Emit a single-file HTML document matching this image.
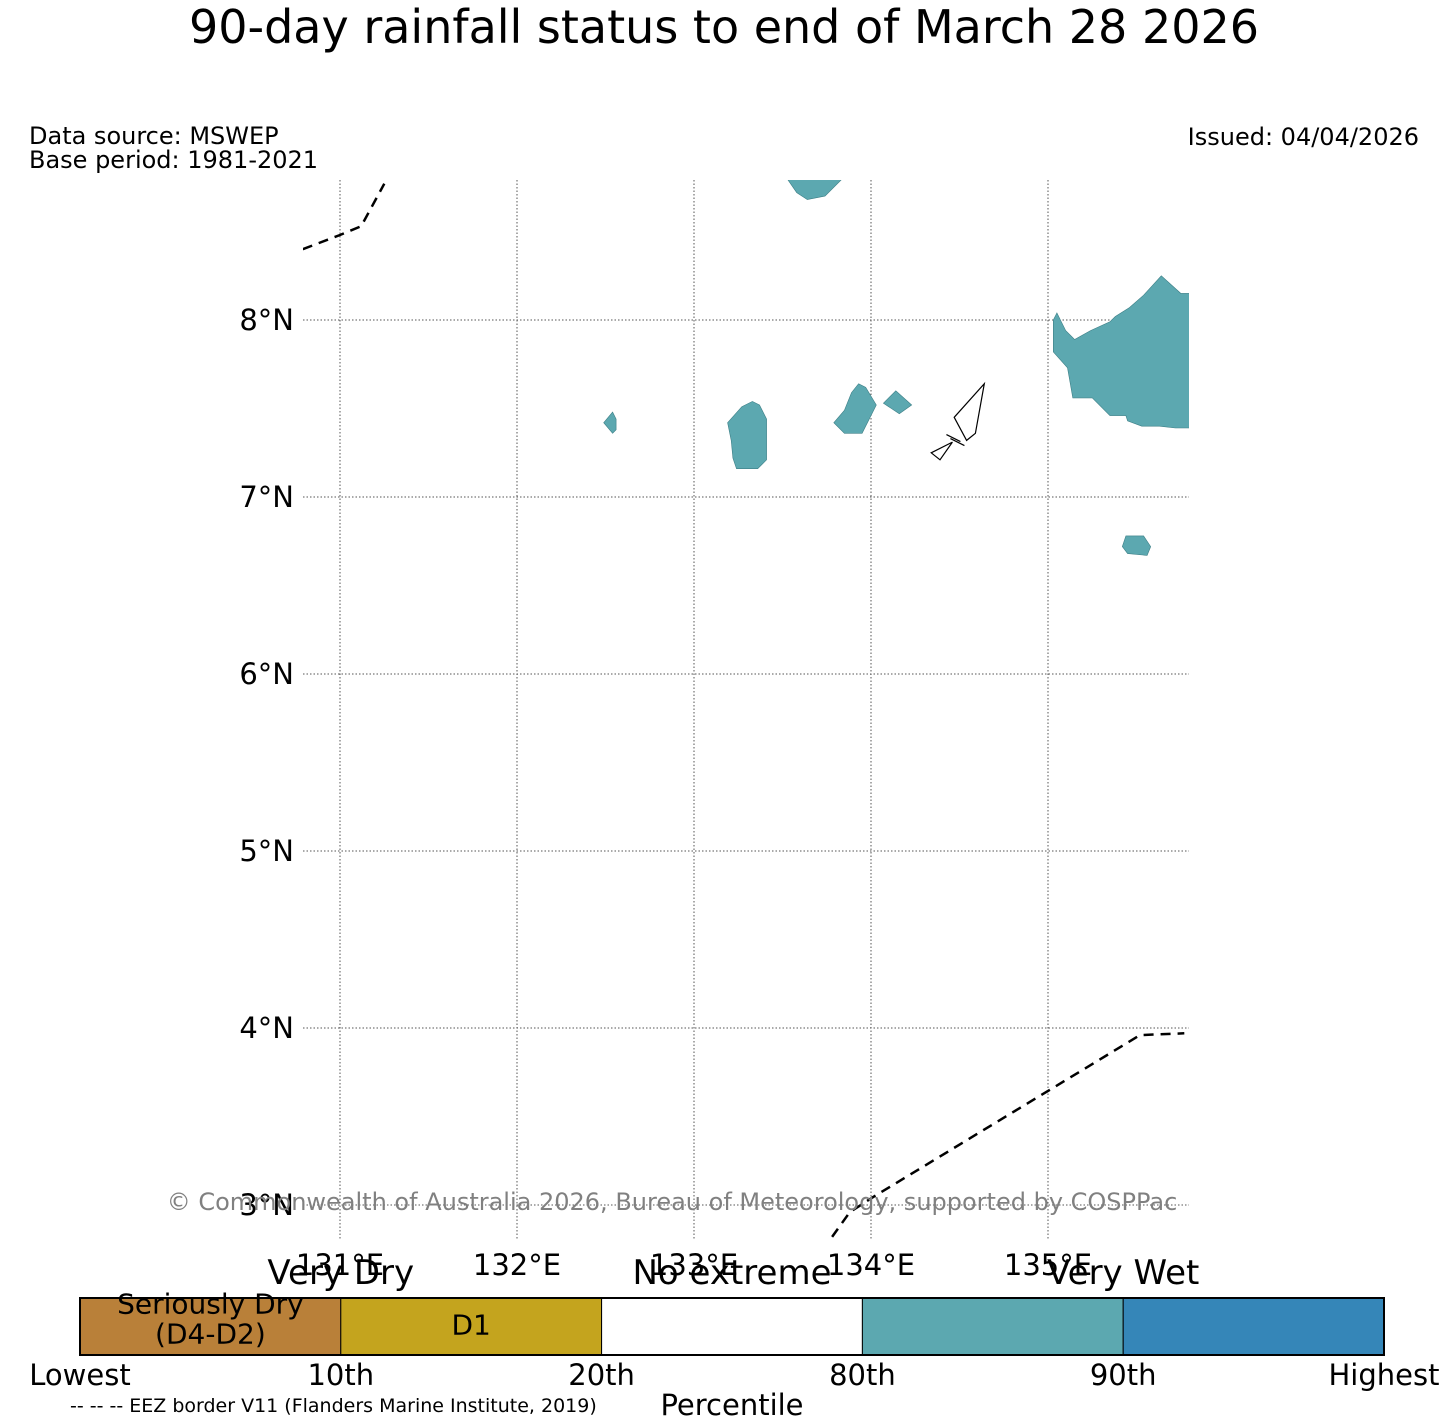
<!DOCTYPE html>
<html><head><meta charset="utf-8"><style>
body{margin:0;background:#fff;width:1449px;height:1426px;overflow:hidden;font-family:"DejaVu Sans","Liberation Sans",sans-serif}
svg{display:block}
</style></head><body>
<svg id="chart" width="1449" height="1426" font-family="DejaVu Sans, Liberation Sans, sans-serif">
<text x="724" y="43" font-size="46" text-anchor="middle">90-day rainfall status to end of March 28 2026</text>
<text x="29" y="144" font-size="24">Data source: MSWEP</text>
<text x="29" y="168" font-size="24">Base period: 1981-2021</text>
<text x="1419" y="145" font-size="24" text-anchor="end">Issued: 04/04/2026</text>
<defs><clipPath id="mapclip"><rect x="303" y="180" width="886" height="1060"/></clipPath></defs>
<g id="map" clip-path="url(#mapclip)"></g>
<g id="ticks"></g>
<text x="672" y="1210" font-size="24" fill="#808080" text-anchor="middle">© Commonwealth of Australia 2026, Bureau of Meteorology, supported by COSPPac</text>
<g id="cbar"></g>
<text x="70" y="1412" font-size="19">-- -- -- EEZ border V11 (Flanders Marine Institute, 2019)</text>
<text x="732" y="1415" font-size="29" text-anchor="middle">Percentile</text>
</svg>
<script>
const lonTicks=[131,132,133,134,135];
const latTicks=[8,7,6,5,4,3];
const wetPolys=[
 [[133.525,8.80],[133.58,8.72],[133.64,8.68],[133.74,8.70],[133.84,8.80]],
 [[135.03,8.00],[135.05,8.04],[135.10,7.94],[135.15,7.89],[135.24,7.94],[135.35,7.99],[135.38,8.02],[135.46,8.07],[135.54,8.14],[135.64,8.25],[135.75,8.15],[135.80,8.15],[135.80,7.39],[135.72,7.39],[135.63,7.40],[135.53,7.40],[135.45,7.43],[135.44,7.46],[135.35,7.46],[135.25,7.56],[135.14,7.56],[135.11,7.73],[135.03,7.82]],
 [[135.44,6.78],[135.54,6.78],[135.58,6.72],[135.56,6.67],[135.45,6.68],[135.42,6.72]],
 [[133.19,7.42],[133.27,7.51],[133.33,7.54],[133.37,7.52],[133.41,7.44],[133.41,7.21],[133.36,7.16],[133.24,7.16],[133.22,7.22],[133.21,7.32]],
 [[133.79,7.42],[133.85,7.49],[133.89,7.59],[133.93,7.64],[133.97,7.62],[134.03,7.52],[133.95,7.36],[133.85,7.36]],
 [[134.07,7.53],[134.14,7.60],[134.23,7.52],[134.16,7.47]],
 [[132.49,7.42],[132.54,7.48],[132.56,7.44],[132.56,7.38],[132.54,7.36]]
];
const islandPolys=[
 [[134.47,7.45],[134.64,7.64],[134.59,7.36],[134.54,7.32]],
 [[134.34,7.25],[134.46,7.31],[134.39,7.21]]
];
const eezLines=[
 [[130.79,8.40],[131.0,8.48],[131.12,8.53],[131.25,8.77]],
 [[133.78,2.82],[133.88,2.96],[134.02,3.05],[135.52,3.96],[135.77,3.97]]
];
const cbarColors=["#b98039","#c4a41e","#ffffff","#5ca8b0","#3586b8"];
const cbarTicks=["Lowest","10th","20th","80th","90th","Highest"];
const cbarInner=["Seriously Dry\n(D4-D2)","D1","","",""];
const cbarTop=[["Very Dry",1],["No extreme",2.5],["Very Wet",4]];

const NS="http://www.w3.org/2000/svg";
const xs=lon=>340+(lon-131)*177;
const ys=lat=>320-(lat-8)*177;
function mk(tag,attrs,parent){const e=document.createElementNS(NS,tag);for(const k in attrs)e.setAttribute(k,attrs[k]);parent.appendChild(e);return e;}
const map=document.getElementById('map'),ticks=document.getElementById('ticks'),cbar=document.getElementById('cbar');
const pts=p=>p.map(q=>xs(q[0]).toFixed(1)+','+ys(q[1]).toFixed(1)).join(' ');
lonTicks.forEach(l=>{const e=mk('line',{x1:xs(l),x2:xs(l),y1:180,y2:1240,stroke:'#555','stroke-width':1,'stroke-dasharray':'1.5,2'},map);

const t=mk('text',{x:xs(l),y:1275,'font-size':29,'text-anchor':'middle'},ticks);t.textContent=l+'°E';
});
latTicks.forEach(l=>{const e=mk('line',{x1:303,x2:1189,y1:ys(l),y2:ys(l),stroke:'#555','stroke-width':1,'stroke-dasharray':'1.5,2'},map);

const t=mk('text',{x:294,y:ys(l)+10,'font-size':29,'text-anchor':'end'},ticks);t.textContent=l+'°N';
});
wetPolys.forEach(p=>{const e=mk('polygon',{points:pts(p),fill:'#5ca8b0',stroke:'#3d7f86','stroke-width':0.6},map);
});
islandPolys.forEach(p=>{const e=mk('polygon',{points:pts(p),fill:'#fff',stroke:'#000','stroke-width':1.2},map);
});
[[0,0],[1,4]].forEach(([a,b])=>{const cx=xs(134.46),cy=ys(7.33);const e=mk('line',{x1:cx-6+b,y1:cy-4+b,x2:cx+8+b,y2:cy+3+b,stroke:'#000','stroke-width':1.2},map);
});
eezLines.forEach(p=>{const e=mk('polyline',{points:pts(p),fill:'none',stroke:'#000','stroke-width':2.5,'stroke-dasharray':'10,7'},map);
});
const cx0=80,cx1=1384,cy0=1298,ch=57,seg=(cx1-cx0)/cbarColors.length;
cbarColors.forEach((c,i)=>{const e=mk('rect',{x:cx0+i*seg,y:cy0,width:seg,height:ch,fill:c,stroke:'#000','stroke-width':1},cbar);

const lines=cbarInner[i].split('\n').filter(s=>s);const off=lines.length>1?-8:-2;lines.forEach((s,j)=>{const t=mk('text',{x:cx0+(i+0.5)*seg,y:cy0+ch/2+10+off+(j-(lines.length-1)/2)*30,'font-size':28,'text-anchor':'middle'},cbar);t.textContent=s;
});});
mk('rect',{x:cx0,y:cy0,width:cx1-cx0,height:ch,fill:'none',stroke:'#000','stroke-width':2},cbar);
cbarTicks.forEach((s,i)=>{const t=mk('text',{x:cx0+i*seg,y:1385,'font-size':29,'text-anchor':'middle'},cbar);t.textContent=s;
});
cbarTop.forEach(([s,p])=>{const t=mk('text',{x:cx0+p*seg,y:1284,'font-size':34,'text-anchor':'middle'},cbar);t.textContent=s;
});
</script>
</body></html>
